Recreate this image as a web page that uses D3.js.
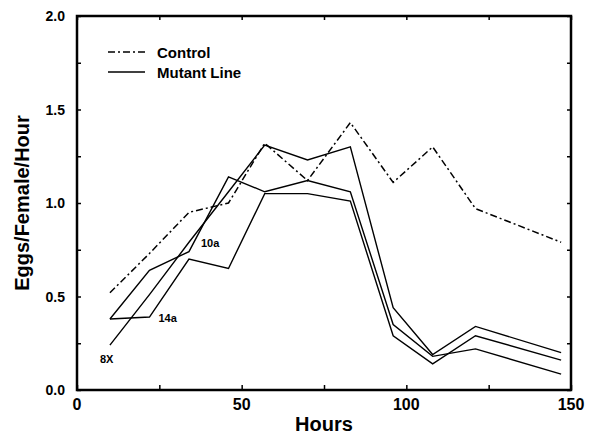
<!DOCTYPE html>
<html>
<head>
<meta charset="utf-8">
<script src="https://cdn.jsdelivr.net/npm/d3@7"></script>
<style>
    body { margin: 0; background: #fff; }
    text { font-family: "Liberation Sans", Arial, Helvetica, sans-serif; font-weight: bold; fill: #000; }
</style>
</head>
<body>
<div id="chart-area"></div>
<script>
// sampling times (hours) and egg laying rates
const hours = [10, 22, 34, 46, 57, 70, 83, 96, 108, 121, 147];
const control = [0.52, 0.73, 0.95, 1.00, 1.32, 1.12, 1.43, 1.11, 1.30, 0.97, 0.79];
const line8X = [0.24, 0.51, 0.79, 1.06, 1.31, 1.23, 1.30, 0.44, 0.19, 0.34, 0.20];
const line10a = [0.38, 0.64, 0.74, 1.14, 1.06, 1.12, 1.06, 0.35, 0.18, 0.22, 0.085];
const line14a = [0.38, 0.39, 0.70, 0.65, 1.05, 1.05, 1.01, 0.29, 0.14, 0.29, 0.16];

const xTicks = [0, 50, 100, 150];
const yTicks = [0.0, 0.5, 1.0, 1.5, 2.0];

const legendLabels = ['Control', 'Mutant Line'];

// mutant line names, with the hour of the point each label sits beside
const mutantNames = ['8X', '10a', '14a'];
const labelHours = [10, 34, 22];

class LineVis {
    constructor(parentElement) {
        this.parentElement = parentElement;
        this.initVis();
    }

    initVis() {
        let vis = this;

        const width = 592;
        const height = 434;

        vis.margin = { top: 16, right: 21, bottom: 44, left: 77 };
        vis.width = width - vis.margin.left - vis.margin.right;
        vis.height = height - vis.margin.top - vis.margin.bottom;

        vis.svg = d3.select('#' + vis.parentElement)
            .append('svg')
            .attr('width', width)
            .attr('height', height)
            .append('g')
            .attr('transform', `translate(${vis.margin.left}, ${vis.margin.top})`);

        vis.x = d3.scaleLinear().domain([0, 150]).range([0, vis.width]);
        vis.y = d3.scaleLinear().domain([0, 2]).range([vis.height, 0]);

        // inward ticks on all four sides
        const xMinor = d3.range(0, 151, 25);
        const yMinor = d3.range(0, 2.01, 0.25);

        vis.svg.append('g')
            .attr('transform', `translate(0, ${vis.height})`)
            .call(d3.axisBottom(vis.x).tickValues(xMinor).tickSizeInner(-5).tickSizeOuter(0).tickFormat(''));
        vis.svg.append('g')
            .call(d3.axisTop(vis.x).tickValues(xMinor).tickSizeInner(-4).tickSizeOuter(0).tickFormat(''));
        vis.svg.append('g')
            .call(d3.axisLeft(vis.y).tickValues(yMinor).tickSizeInner(-4).tickSizeOuter(0).tickFormat(''));
        vis.svg.append('g')
            .attr('transform', `translate(${vis.width}, 0)`)
            .call(d3.axisRight(vis.y).tickValues(yMinor).tickSizeInner(-4).tickSizeOuter(0).tickFormat(''));
        vis.svg.selectAll('.domain').remove();
        vis.svg.selectAll('.tick line').attr('stroke', '#000').attr('stroke-width', 1.5);

        // frame
        vis.svg.append('rect')
            .attr('width', vis.width)
            .attr('height', vis.height)
            .attr('fill', 'none')
            .attr('stroke', '#000')
            .attr('stroke-width', 2.5);

        // tick labels
        vis.svg.selectAll('.x-label')
            .data(xTicks)
            .enter().append('text')
            .attr('class', 'x-label')
            .attr('x', d => vis.x(d))
            .attr('y', vis.height + 20)
            .attr('text-anchor', 'middle')
            .style('font-size', '16px')
            .text(d => d);

        vis.svg.selectAll('.y-label')
            .data(yTicks)
            .enter().append('text')
            .attr('class', 'y-label')
            .attr('x', -12)
            .attr('y', d => vis.y(d) + 5)
            .attr('text-anchor', 'end')
            .style('font-size', '14px')
            .text(d => d3.format('.1f')(d));

        // axis titles
        vis.svg.append('text')
            .attr('x', vis.width / 2)
            .attr('y', vis.height + 41)
            .attr('text-anchor', 'middle')
            .style('font-size', '20px')
            .text('Hours');

        vis.svg.append('text')
            .attr('transform', `translate(-48, ${vis.height / 2}) rotate(-90)`)
            .attr('text-anchor', 'middle')
            .style('font-size', '20px')
            .text('Eggs/Female/Hour');

        vis.line = d3.line()
            .x(d => vis.x(d.hour))
            .y(d => vis.y(d.value));

        vis.wrangleData();
    }

    wrangleData() {
        let vis = this;

        const toPoints = vals => hours.map((h, i) => ({ hour: h, value: vals[i] }));

        vis.controlData = toPoints(control);
        vis.mutantData = [line8X, line10a, line14a].map((vals, i) => ({
            name: mutantNames[i],
            points: toPoints(vals),
            labelHour: labelHours[i]
        }));

        vis.updateVis();
    }

    updateVis() {
        let vis = this;

        vis.svg.selectAll('.mutant')
            .data(vis.mutantData)
            .enter().append('path')
            .attr('class', 'mutant')
            .attr('d', d => vis.line(d.points))
            .attr('fill', 'none')
            .attr('stroke', '#000')
            .attr('stroke-width', 1.4);

        vis.svg.append('path')
            .datum(vis.controlData)
            .attr('d', vis.line)
            .attr('fill', 'none')
            .attr('stroke', '#000')
            .attr('stroke-width', 1.5)
            .attr('stroke-dasharray', '7,3,2,3');

        // line labels, nudged off the point they name
        const nudge = { '8X': [-10, 18], '10a': [12, -5], '14a': [9, 5] };
        vis.svg.selectAll('.line-label')
            .data(vis.mutantData)
            .enter().append('text')
            .attr('class', 'line-label')
            .attr('x', d => vis.x(d.labelHour) + nudge[d.name][0])
            .attr('y', d => vis.y(d.points.find(p => p.hour === d.labelHour).value) + nudge[d.name][1])
            .style('font-size', '11px')
            .text(d => d.name);

        // legend
        let legend = vis.svg.append('g')
            .attr('transform', 'translate(31, 36)');

        legend.selectAll('line')
            .data(legendLabels)
            .enter().append('line')
            .attr('x1', 0)
            .attr('x2', 37)
            .attr('y1', (d, i) => i * 20)
            .attr('y2', (d, i) => i * 20)
            .attr('stroke', '#000')
            .attr('stroke-width', 1.5)
            .attr('stroke-dasharray', (d, i) => i === 0 ? '7,3,2,3' : null);

        legend.selectAll('text')
            .data(legendLabels)
            .enter().append('text')
            .attr('x', 49)
            .attr('y', (d, i) => i * 20 + 5.5)
            .style('font-size', '15px')
            .text(d => d);
    }
}

new LineVis('chart-area');
</script>
</body>
</html>
